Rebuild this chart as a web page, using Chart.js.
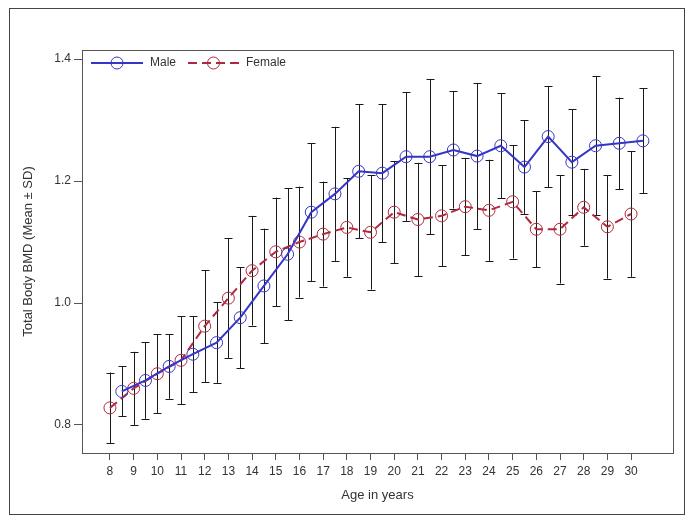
<!DOCTYPE html>
<html>
<head>
<meta charset="utf-8">
<script src="https://cdn.jsdelivr.net/npm/chart.js@4.4.1/dist/chart.umd.min.js"></script>
<style>
  body { margin: 0; background: #fff; }
  canvas { display: block; }
</style>
</head>
<body>
<canvas id="bmdChart" width="695" height="525"></canvas>
<script>
// ages (female at whole years, male plotted half a year later)
var femaleAge = [8, 9, 10, 11, 12, 13, 14, 15, 16, 17, 18, 19, 20, 21, 22, 23, 24, 25, 26, 27, 28, 29, 30];
var maleAge = [8.5, 9.5, 10.5, 11.5, 12.5, 13.5, 14.5, 15.5, 16.5, 17.5, 18.5, 19.5, 20.5, 21.5, 22.5, 23.5, 24.5, 25.5, 26.5, 27.5, 28.5, 29.5, 30.5];

var femaleMean = [0.828, 0.860, 0.884, 0.906, 0.962, 1.008, 1.053, 1.084, 1.100, 1.113, 1.124, 1.116, 1.149, 1.137, 1.143, 1.158, 1.152, 1.166, 1.121, 1.121, 1.157, 1.125, 1.146];
var femaleSD = [0.058, 0.060, 0.065, 0.072, 0.092, 0.098, 0.090, 0.089, 0.091, 0.086, 0.081, 0.094, 0.084, 0.093, 0.083, 0.080, 0.083, 0.093, 0.062, 0.089, 0.063, 0.085, 0.103];

var maleMean = [0.855, 0.873, 0.896, 0.916, 0.935, 0.976, 1.028, 1.080, 1.149, 1.179, 1.216, 1.213, 1.240, 1.240, 1.251, 1.241, 1.258, 1.223, 1.273, 1.231, 1.258, 1.262, 1.266];
var maleSD = [0.041, 0.063, 0.053, 0.062, 0.066, 0.083, 0.094, 0.108, 0.113, 0.110, 0.110, 0.113, 0.106, 0.127, 0.096, 0.120, 0.086, 0.077, 0.083, 0.087, 0.114, 0.075, 0.086];

var xTicks = [8, 9, 10, 11, 12, 13, 14, 15, 16, 17, 18, 19, 20, 21, 22, 23, 24, 25, 26, 27, 28, 29, 30];
var yTicks = [0.8, 1.0, 1.2, 1.4];

var BLUE = '#3535c8';
var RED = '#b0283e';
var TXT = '#333333';
var FONT = "'Liberation Sans', Arial, sans-serif";

function toPoints(xs, ys){
    var out = [];
    for (var i = 0; i < xs.length; i++) out.push({x: xs[i], y: ys[i]});
    return out;
}

// mean +- SD whiskers, drawn under the lines
var errorBars = {
    id: 'errorBars',
    beforeDatasetsDraw: function(chart){
        var ctx = chart.ctx;
        var xs = chart.scales.x, ys = chart.scales.y;
        ctx.save();
        ctx.strokeStyle = '#1a1a1a';
        ctx.lineWidth = 1;
        chart.data.datasets.forEach(function(ds){
            ds.data.forEach(function(p, i){
                var x = Math.round(xs.getPixelForValue(p.x)) + 0.5;
                var top = ys.getPixelForValue(p.y + ds.sd[i]);
                var bot = ys.getPixelForValue(p.y - ds.sd[i]);
                ctx.beginPath();
                ctx.moveTo(x, top); ctx.lineTo(x, bot);
                ctx.moveTo(x - 4, Math.round(top) + 0.5); ctx.lineTo(x + 4, Math.round(top) + 0.5);
                ctx.moveTo(x - 4, Math.round(bot) + 0.5); ctx.lineTo(x + 4, Math.round(bot) + 0.5);
                ctx.stroke();
            });
        });
        ctx.restore();
    }
};

// plot frame, outer border and the legend inside the plot
var frameAndLegend = {
    id: 'frameAndLegend',
    afterDraw: function(chart){
        var ctx = chart.ctx;
        var a = chart.chartArea;
        ctx.save();
        ctx.strokeStyle = '#555';
        ctx.lineWidth = 1;
        ctx.strokeRect(Math.round(a.left) + 0.5, Math.round(a.top) + 0.5, Math.round(a.right - a.left), Math.round(a.bottom - a.top));
        ctx.strokeStyle = '#444';
        ctx.strokeRect(9.5, 8.5, 675, 506);

        var items = [
            {ds: chart.data.datasets[0], x0: 91, x1: 143, tx: 150},
            {ds: chart.data.datasets[1], x0: 188, x1: 239, tx: 246}
        ];
        var ly = 63;
        items.forEach(function(it){
            ctx.strokeStyle = it.ds.borderColor;
            ctx.lineWidth = it.ds.borderWidth;
            ctx.setLineDash(it.ds.borderDash || []);
            ctx.beginPath();
            ctx.moveTo(it.x0, ly); ctx.lineTo(it.x1, ly);
            ctx.stroke();
            ctx.setLineDash([]);
            ctx.fillStyle = '#fff';
            ctx.lineWidth = 1;
            ctx.strokeStyle = it.ds.pointBorderColor;
            ctx.beginPath();
            ctx.arc((it.x0 + it.x1) / 2, ly, 6, 0, Math.PI * 2);
            ctx.stroke();
            ctx.fillStyle = TXT;
            ctx.font = '12px ' + FONT;
            ctx.textBaseline = 'middle';
            ctx.fillText(it.ds.label, it.tx, ly);
        });
        ctx.restore();
    }
};

const ctx = document.getElementById('bmdChart').getContext('2d');
const myChart = new Chart(ctx, {
    type: 'line',
    data: {
        datasets: [{
            label: 'Male',
            data: toPoints(maleAge, maleMean),
            sd: maleSD,
            borderColor: BLUE,
            borderWidth: 2,
            pointStyle: 'circle',
            pointRadius: 6,
            pointBorderWidth: 1,
            pointBorderColor: BLUE,
            pointBackgroundColor: 'rgba(0,0,0,0)',
            fill: false,
            tension: 0
        }, {
            label: 'Female',
            data: toPoints(femaleAge, femaleMean),
            sd: femaleSD,
            borderColor: RED,
            borderWidth: 2,
            borderDash: [9, 5],
            pointStyle: 'circle',
            pointRadius: 6,
            pointBorderWidth: 1,
            pointBorderColor: RED,
            pointBackgroundColor: 'rgba(0,0,0,0)',
            fill: false,
            tension: 0
        }]
    },
    plugins: [errorBars, frameAndLegend],
    options: {
        responsive: false,
        animation: false,
        devicePixelRatio: 1,
        layout: { padding: { left: 0, top: 50, right: 22, bottom: 20 } },
        plugins: {
            legend: { display: false },
            tooltip: { enabled: false }
        },
        scales: {
            x: {
                type: 'linear',
                min: 6.82,
                max: 31.77,
                afterBuildTicks: function(scale){
                    scale.ticks = xTicks.map(function(v){ return {value: v}; });
                },
                afterFit: function(scale){ scale.height = 52; },
                grid: { drawOnChartArea: false, tickLength: 7, color: '#555' },
                border: { display: false },
                ticks: {
                    autoSkip: false,
                    maxRotation: 0,
                    padding: 4,
                    color: TXT,
                    font: { family: FONT, size: 12 }
                },
                title: {
                    display: true,
                    text: 'Age in years',
                    color: TXT,
                    font: { family: FONT, size: 13 },
                    padding: { top: 0, bottom: 2 }
                }
            },
            y: {
                min: 0.754,
                max: 1.415,
                afterBuildTicks: function(scale){
                    scale.ticks = yTicks.map(function(v){ return {value: v}; });
                },
                afterFit: function(scale){ scale.width = 82; },
                grid: { drawOnChartArea: false, tickLength: 8, color: '#555' },
                border: { display: false },
                ticks: {
                    padding: 3,
                    color: TXT,
                    font: { family: FONT, size: 12 },
                    callback: function(v){ return v.toFixed(1); }
                },
                title: {
                    display: true,
                    text: 'Total Body BMD (Mean ± SD)',
                    color: TXT,
                    font: { family: FONT, size: 13 },
                    padding: { top: 21, bottom: 0 }
                }
            }
        }
    }
});
</script>
</body>
</html>
